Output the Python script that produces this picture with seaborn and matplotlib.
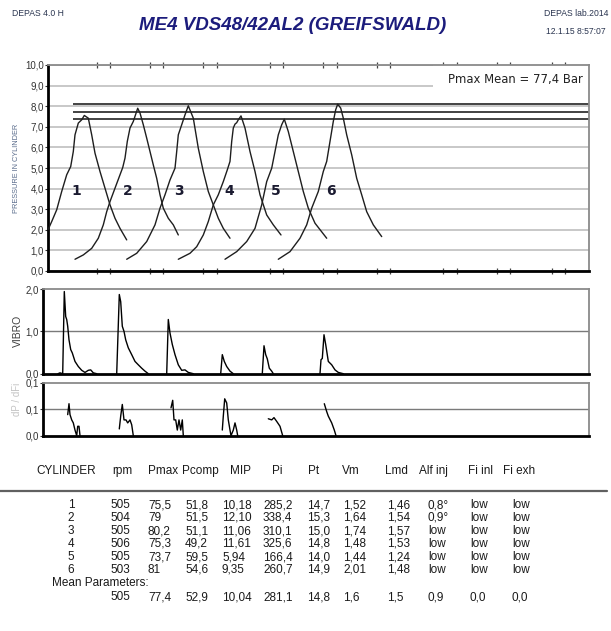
import seaborn as sns
import matplotlib.pyplot as plt
from matplotlib.patches import Rectangle
from matplotlib.ticker import FuncFormatter

W, H = 611, 631

# ------------------------------------------------------------------ data --- #
cylinders = ["1", "2", "3", "4", "5", "6"]

# cylinder pressure traces: crank position / pressure (x10 bar)
pres_x = [
    [48, 51.7, 56.7, 61.7, 66.7, 70.7, 73.3, 75, 78.3, 81.7, 84.3, 88.3, 91.7, 95, 100, 105, 110, 115,
     120, 126.7],
    [75, 83.3, 91.7, 98.3, 103.3, 106.7, 110, 115, 120, 122.7, 125, 127.3, 130, 133.3, 137.7, 140, 143.3,
     146.7, 150, 153.3, 156.7, 160, 163.3, 168.3, 173.3, 178.3],
    [126.7, 136.7, 146.7, 155, 160, 165, 170, 175, 176.7, 178.3, 181.7, 185, 188.3, 193.3, 198.3, 203.3,
     208.3, 213.3, 218.3, 223.3, 230],
    [178.3, 190, 196.7, 203.3, 208.3, 213.3, 218.3, 223.3, 227.3, 230, 231.7, 233.3, 235, 236.7, 238.3,
     241, 245, 250, 255, 260, 266.7, 273.3, 281],
    [225, 236.7, 246.7, 255, 261.7, 266.7, 271.7, 275, 278.3, 281.7, 284.3, 288.3, 293.3, 298.3, 303.3,
     308.3, 315, 326.7],
    [278.3, 290, 300, 306.7, 311.7, 318.3, 323.3, 326.7, 330, 333.3, 335.7, 337.7, 340.7, 343.3, 346.7,
     351.7, 356.7, 361.7, 366.7, 373.3, 381.7],
]
pres_y = [
    [2.0, 2.4, 2.97, 3.86, 4.67, 5.07, 5.8, 6.61, 7.18, 7.34, 7.55, 7.42, 6.61, 5.72, 4.83, 4.02, 3.21,
     2.56, 2.07, 1.51],
    [0.57, 0.78, 1.1, 1.59, 2.24, 2.88, 3.37, 4.02, 4.67, 5.02, 5.48, 6.29, 6.94, 7.26, 7.9, 7.67, 7.1,
     6.45, 5.8, 5.15, 4.5, 3.7, 3.05, 2.56, 2.24, 1.75],
    [0.57, 0.86, 1.43, 2.24, 3.05, 3.7, 4.42, 4.99, 5.8, 6.61, 7.1, 7.58, 8.02, 7.42, 5.96, 4.83, 3.86,
     3.21, 2.56, 2.07, 1.59],
    [0.57, 0.86, 1.18, 1.75, 2.4, 3.21, 3.7, 4.34, 4.91, 5.32, 6.29, 6.94, 7.13, 7.2, 7.34, 7.53, 6.94,
     5.8, 4.83, 3.7, 2.72, 2.24, 1.75],
    [0.57, 0.94, 1.43, 2.07, 3.21, 4.34, 4.99, 5.8, 6.61, 7.1, 7.37, 6.77, 5.8, 4.83, 3.86, 3.05, 2.32,
     1.59],
    [0.57, 0.94, 1.59, 2.24, 3.05, 3.86, 4.83, 5.32, 6.29, 7.26, 7.83, 8.1, 7.91, 7.42, 6.61, 5.64, 4.5,
     3.7, 2.88, 2.24, 1.67],
]
label_x = [76, 127.3, 179, 229.3, 276, 331]
label_y = 3.86

# TDC marks on the crank axis
tdc_marks = [96.7, 110, 150, 163.3, 203.3, 216.7, 270, 283.3, 323.3, 336.7, 376.7, 390, 443.3, 456.7,
             496.7, 510, 551.7, 565]

# vibration traces
vib_x = [
    [58, 60, 62.7, 64.3, 65.7, 66.7, 67.7, 69, 70.7, 72.3, 75, 78.3, 81.7, 85, 88.3, 90.7, 93.3, 96.7],
    [116.7, 119.3, 120.7, 122.3, 124, 125.7, 128.3, 131.7, 135, 138.3, 141.7, 145, 148.3],
    [166.7, 168.3, 170, 172.3, 175, 178.3, 181.7, 185, 188.3, 193.3],
    [220.7, 222.3, 224.3, 226.7, 230, 233.3],
    [262.3, 264, 265.7, 267.3, 269.3, 271.7, 273.3],
    [320, 321, 322.3, 324, 325.7, 328.3, 331.7, 335, 338.3, 343.3],
]
vib_y = [
    [0, 0.02, 0, 1.94, 1.35, 1.28, 1.12, 0.8, 0.57, 0.49, 0.29, 0.17, 0.08, 0.03, 0.08, 0.09, 0.02, 0],
    [0, 1.87, 1.7, 1.12, 1.0, 0.8, 0.61, 0.45, 0.29, 0.21, 0.13, 0.06, 0],
    [0, 1.28, 0.96, 0.69, 0.45, 0.21, 0.08, 0.09, 0.03, 0],
    [0, 0.45, 0.29, 0.17, 0.06, 0],
    [0, 0.66, 0.45, 0.35, 0.13, 0.06, 0],
    [0, 0.33, 0.36, 0.92, 0.69, 0.29, 0.21, 0.09, 0.03, 0],
]

# dP / dFi traces
dp_x = [
    [67.7, 69, 70, 71.7, 73.3, 75, 76.7, 77.7, 79, 80],
    [119.3, 120.7, 122.3, 124, 126, 127.7, 130, 131.7, 133.3],
    [171, 172.7, 174, 175.7, 177.3, 179, 180.7, 182.3, 183.3],
    [222.3, 223.3, 224.7, 226.7, 228.3, 230, 231, 233.3, 235, 236.7, 237.7],
    [268.3, 271.7, 274, 276.7, 280, 282.7],
    [324.3, 326.7, 328.3, 331.7, 334.3, 336],
]
dp_y = [
    [0.056, 0.085, 0.056, 0.042, 0.034, 0.015, 0, 0.025, 0.025, 0],
    [0.018, 0.052, 0.083, 0.042, 0.042, 0.034, 0.042, 0.029, 0],
    [0.074, 0.094, 0.042, 0.042, 0.015, 0.042, 0.015, 0.042, 0],
    [0.015, 0.052, 0.098, 0.087, 0.042, 0.015, 0, 0.015, 0.034, 0.015, 0],
    [0.045, 0.042, 0.048, 0.038, 0.025, 0],
    [0.085, 0.064, 0.052, 0.034, 0.015, 0],
]

# results table
headers = ["rpm", "Pmax", "Pcomp", "MIP", "Pi", "Pt", "Vm", "Lmd", "Alf inj", "Fi inl", "Fi exh"]
rpm = ["505", "504", "505", "506", "505", "503"]
pmax = [75.5, 79.0, 80.2, 75.3, 73.7, 81.0]
pcomp = ["51,8", "51,5", "51,1", "49,2", "59,5", "54,6"]
mip = ["10,18", "12,10", "11,06", "11,61", "5,94", "9,35"]
pi = ["285,2", "338,4", "310,1", "325,6", "166,4", "260,7"]
pt = ["14,7", "15,3", "15,0", "14,8", "14,0", "14,9"]
vm = ["1,52", "1,64", "1,74", "1,48", "1,44", "2,01"]
lmd = ["1,46", "1,54", "1,57", "1,53", "1,24", "1,48"]
alf_inj = ["0,8°", "0,9°", "low", "low", "low", "low"]
fi_inl = ["low"] * 6
fi_exh = ["low"] * 6
mean_row = ["505", "77,4", "52,9", "10,04", "281,1", "14,8", "1,6", "1,5", "0,9", "0,0", "0,0"]
pmax_mean = 77.4

# ---------------------------------------------------------------- layout --- #
head_x = [112, 148, 182, 230, 272, 308, 342, 385, 419, 468, 503]
col_x = [110, 148, 185, 222, 263, 307, 343, 387, 428, 470, 512]
row_y = [505, 518, 531, 544, 557, 570]

sns.set_style("white")
plt.rcParams["font.family"] = ["Liberation Sans", "DejaVu Sans"]

fig = plt.figure(figsize=(W / 100, H / 100), dpi=100)


def fx(x):
    return x / W


def fy(y):
    return 1 - y / H


def comma(v, fmt="{:.1f}"):
    return fmt.format(v).replace(".", ",")


def frame(ax):
    for side in ("left", "bottom"):
        ax.spines[side].set_color("black")
        ax.spines[side].set_linewidth(2)
    for side in ("top", "right"):
        ax.spines[side].set_visible(True)
        ax.spines[side].set_color("#8a8a8a")
        ax.spines[side].set_linewidth(1.3)
    ax.tick_params(axis="y", left=True, length=2, width=0.8, pad=1, labelsize=7, colors="#333333")


# ---- pressure in cylinder
ax = fig.add_axes([fx(48), fy(271), fx(541), 206 / H])
ax.set_xlim(48, 589)
ax.set_ylim(0, 10)
ax.set_yticks(range(0, 11))
ax.yaxis.set_major_formatter(FuncFormatter(lambda v, _: comma(v)))
ax.grid(axis="y", color="#c8c8c8", lw=1.4)
ax.set_axisbelow(True)
frame(ax)
ax.set_xticks(tdc_marks)
ax.set_xticklabels([])
ax.tick_params(axis="x", top=True, bottom=True, direction="inout", length=4, width=0.9, color="#444444")
ax.add_patch(Rectangle((0.712, 0.81), 0.288, 0.19, transform=ax.transAxes, facecolor="white",
                       edgecolor="none", zorder=1.5))
for cx, cy in zip(pres_x, pres_y):
    sns.lineplot(x=cx, y=cy, ax=ax, color="#1e1e1e", lw=1.0, sort=False, estimator=None, zorder=3)
for lvl in (max(pmax), pmax_mean, min(pmax)):
    ax.hlines(lvl / 10, 73, 589, color="#222222", lw=1.2, zorder=2)
for lab, lx in zip(cylinders, label_x):
    ax.text(lx, label_y, lab, ha="center", va="center", fontsize=10, fontweight="bold",
            family="DejaVu Sans", color="#1a1a30")
ax.set_xlabel("")
ax.set_ylabel("")
fig.text(fx(583), fy(80), f"Pmax Mean = {comma(pmax_mean)} Bar", ha="right", va="center",
         fontsize=8.4, family="DejaVu Sans", color="#222222")
fig.text(fx(16.5), fy(168), "PRESSURE IN CYLINDER", rotation=90, ha="center", va="center",
         fontsize=5.3, color="#5a6c8c")

# ---- vibration
axv = fig.add_axes([fx(43), fy(373.7), fx(546), 84.7 / H])
axv.set_xlim(43, 589)
axv.set_ylim(0, 2)
axv.set_yticks([0, 1, 2])
axv.yaxis.set_major_formatter(FuncFormatter(lambda v, _: comma(v)))
axv.set_xticks([])
frame(axv)
axv.axhline(1, color="#7a7a7a", lw=1.0, zorder=1)
for cx, cy in zip(vib_x, vib_y):
    sns.lineplot(x=cx, y=cy, ax=axv, color="black", lw=1.0, sort=False, estimator=None, zorder=3)
axv.set_xlabel("")
axv.set_ylabel("")
fig.text(fx(17.5), fy(330.5), "VIBRO", rotation=90, ha="center", va="center", fontsize=7.5,
         color="#404040")

# ---- dP / dFi
axd = fig.add_axes([fx(43), fy(435.7), fx(546), 52.7 / H])
axd.set_xlim(43, 589)
axd.set_ylim(0, 0.14)
axd.set_yticks([0, 0.07, 0.14])
axd.yaxis.set_major_formatter(FuncFormatter(lambda v, _: comma(v)))
axd.set_xticks([])
frame(axd)
axd.axhline(0.07, color="#7a7a7a", lw=1.0, zorder=1)
for cx, cy in zip(dp_x, dp_y):
    sns.lineplot(x=cx, y=cy, ax=axd, color="black", lw=1.0, sort=False, estimator=None, zorder=3)
axd.set_xlabel("")
axd.set_ylabel("")
fig.text(fx(17.5), fy(399), "dP / dFi", rotation=90, ha="center", va="center", fontsize=7,
         color="#c4c4c4")

# ---- header texts
fig.text(fx(293), fy(25.5), "ME4 VDS48/42AL2 (GREIFSWALD)", ha="center", va="center", fontsize=13.5,
         fontweight="bold", fontstyle="italic", color="#1c1c7c")
fig.text(fx(12), fy(14), "DEPAS 4.0 H", ha="left", va="center", fontsize=6.2, color="#2a3550")
fig.text(fx(608), fy(14), "DEPAS lab.2014", ha="right", va="center", fontsize=6.2, color="#2a3550")
fig.text(fx(606), fy(31), "12.1.15 8:57:07", ha="right", va="center", fontsize=6.2, color="#2a3550")

# ---- results table
tkw = dict(va="center", fontsize=8.5, color="#1a1a1a")
fig.text(fx(36), fy(471), "CYLINDER", ha="left", **tkw)
for hx, head in zip(head_x, headers):
    fig.text(fx(hx), fy(471), head, ha="left", **tkw)
fig.add_artist(plt.Line2D([0, fx(607)], [fy(491), fy(491)], color="#606060", lw=1.6))

columns = [rpm, [comma(v, "{:g}") for v in pmax], pcomp, mip, pi, pt, vm, lmd, alf_inj, fi_inl, fi_exh]
for i, cyl in enumerate(cylinders):
    fig.text(fx(71), fy(row_y[i]), cyl, ha="center", **tkw)
    for cx, col in zip(col_x, columns):
        fig.text(fx(cx), fy(row_y[i]), col[i], ha="left", **tkw)
fig.text(fx(52), fy(583.5), "Mean Parameters:", ha="left", **tkw)
for cx, val in zip(col_x, mean_row):
    fig.text(fx(cx), fy(597), val, ha="left", **tkw)

fig.savefig("out.png", dpi=100, facecolor="white")
